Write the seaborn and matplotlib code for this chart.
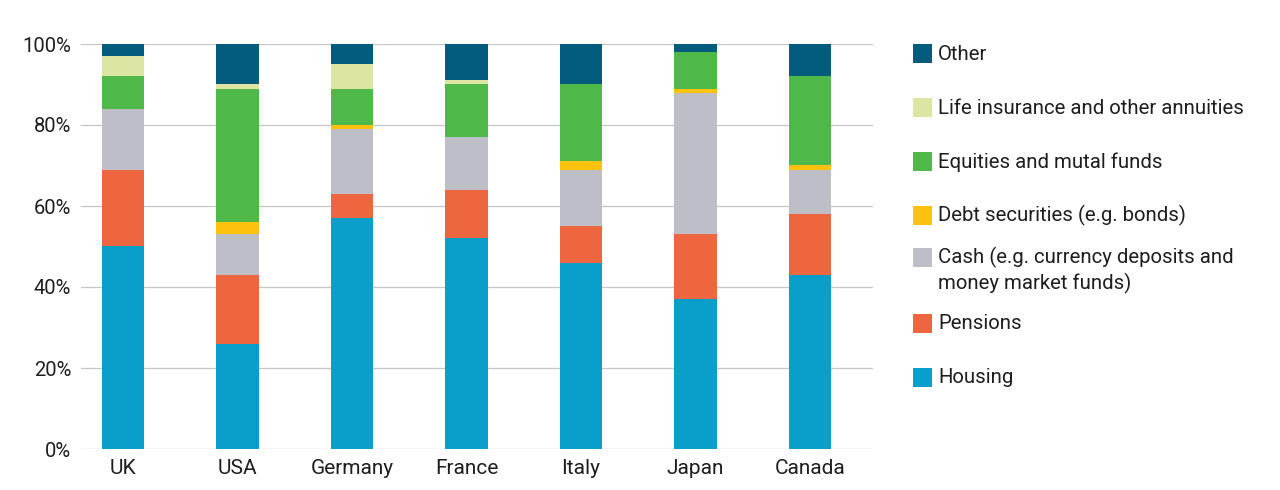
import numpy as np
import pandas as pd
import matplotlib
matplotlib.use('Agg')
import matplotlib.pyplot as plt
from matplotlib.patches import Rectangle
import seaborn as sns

# Data (% of household wealth)
countries = ['UK', 'USA', 'Germany', 'France', 'Italy', 'Japan', 'Canada']
housing = [50, 26, 57, 52, 46, 37, 43]
pensions = [19, 17, 6, 12, 9, 16, 15]
cash = [15, 10, 16, 13, 14, 35, 11]
debt = [0, 3, 1, 0, 2, 1, 1]
equities = [8, 33, 9, 13, 19, 9, 22]
life = [5, 1, 6, 1, 0, 0, 0]
other = [3, 10, 5, 9, 10, 2, 8]

categories = ['Housing', 'Pensions', 'Cash (e.g. currency deposits and\nmoney market funds)',
              'Debt securities (e.g. bonds)', 'Equities and mutal funds',
              'Life insurance and other annuities', 'Other']
series = [housing, pensions, cash, debt, equities, life, other]
colors = ['#0A9ECB', '#EE6640', '#BDBEC6', '#FDC10E', '#4EB848', '#DCE6A2', '#045C7C']

sns.set_theme(style='white')
plt.rcParams['font.family'] = ['Roboto', 'DejaVu Sans']

fig = plt.figure(figsize=(12.8, 4.9), dpi=100)
ax = fig.add_axes([81 / 1280, 41 / 490, 792 / 1280, 405 / 490])

# cumulative tops, drawn from the top segment down so lower ones cover them
tops = np.cumsum(np.array(series), axis=0)
for i in range(len(series) - 1, -1, -1):
    df = pd.DataFrame({'country': countries, 'value': tops[i]})
    sns.barplot(data=df, x='country', y='value', color=colors[i], width=0.37,
                saturation=1, linewidth=0, ax=ax, zorder=3)

ax.set_ylim(0, 100)
ax.set_xlim(-0.366, 6.55)
ax.set_yticks([0, 20, 40, 60, 80, 100])
ax.set_yticklabels([f'{v}%' for v in [0, 20, 40, 60, 80, 100]])
ax.set_xlabel('')
ax.set_ylabel('')
ax.yaxis.grid(True, color='#C6C6C6', linewidth=0.9)
ax.set_axisbelow(True)
for s in ax.spines.values():
    s.set_visible(False)
ax.tick_params(axis='y', length=0, pad=7, labelsize=14.5, labelcolor='#1e1e1e')
ax.tick_params(axis='x', length=0, pad=7, labelsize=15, labelcolor='#1e1e1e')

# legend, top to bottom
leg_y = [54, 108, 162, 215, 257, 323, 377]
for i, yc in zip(range(len(series) - 1, -1, -1), leg_y):
    fig.add_artist(Rectangle((913 / 1280, 1 - (yc + 9.5) / 490), 19 / 1280, 19 / 490,
                             transform=fig.transFigure, color=colors[i], lw=0))
    if '\n' in categories[i]:
        fig.text(938 / 1280, 1 - (yc - 10) / 490, categories[i], fontsize=14.7,
                 color='#1e1e1e', va='top', linespacing=1.3)
    else:
        fig.text(938 / 1280, 1 - yc / 490, categories[i], fontsize=14.7,
                 color='#1e1e1e', va='center')

fig.savefig('out.png', dpi=100)
